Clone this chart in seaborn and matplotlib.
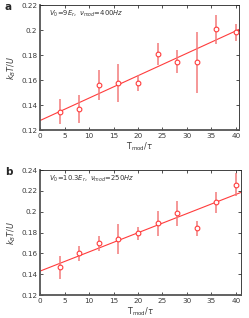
import numpy as np
import pandas as pd
import matplotlib
matplotlib.use("Agg")
import matplotlib.pyplot as plt
from matplotlib.ticker import FuncFormatter
import seaborn as sns

# --- data ---
t_mod = [4, 8, 12, 16, 20, 24, 28, 32, 36, 40]

# panel a : V0=9Er, 400Hz
kT_a = [0.1347, 0.1365, 0.1560, 0.1576, 0.1579, 0.1808, 0.1747, 0.1741, 0.2005, 0.1981]
err_a = [0.0100, 0.0112, 0.0120, 0.0150, 0.0063, 0.0087, 0.0093, 0.0243, 0.0113, 0.0065]

# panel b : V0=10.3Er, 250Hz
kT_b = [0.1466, 0.1600, 0.1696, 0.1738, 0.1792, 0.1888, 0.1984, 0.1840, 0.2090, 0.2262]
err_b = [0.0110, 0.0068, 0.0070, 0.0141, 0.0066, 0.0120, 0.0124, 0.0070, 0.0104, 0.0109]

panels = [
    ("a", kT_a, err_a, (0.12, 0.22), 40.7, r"$V_0\!=\!9E_r,\ \nu_{mod}\!=\!400Hz$"),
    ("b", kT_b, err_b, (0.12, 0.24), 41.0, r"$V_0\!=\!10.3E_r,\ \nu_{mod}\!=\!250Hz$"),
]

LINE_COL = "#ff3c3c"
ERR_COL = "#f27a7a"

sns.set_style("ticks")
plt.rcParams["font.family"] = ["DejaVu Sans"]
plt.rcParams["mathtext.fontset"] = "dejavusans"

fig = plt.figure(figsize=(2.49, 3.18), dpi=100)
rects = [[0.161, 0.591, 0.800, 0.393],
         [0.161, 0.072, 0.806, 0.393]]

fmt = FuncFormatter(lambda v, p: f"{v:g}")

for rect, (tag, kT, err, ylim, xmax, note) in zip(rects, panels):
    ax = fig.add_axes(rect)
    df = pd.DataFrame({"t": t_mod, "kT": kT, "err": err})
    ax.set_xlim(0, xmax)
    ax.set_ylim(*ylim)

    # linear fit across the full x range
    sns.regplot(data=df, x="t", y="kT", ax=ax, scatter=False, ci=None,
                truncate=False, line_kws=dict(color=LINE_COL, lw=0.8))

    ax.errorbar(df["t"], df["kT"], yerr=df["err"], fmt="none",
                ecolor=ERR_COL, elinewidth=1.1, capsize=0, zorder=3)
    ax.plot(df["t"], df["kT"], "o", ms=3.4, mfc="white", mec=LINE_COL,
            mew=0.8, zorder=4)

    ax.set_xlim(0, xmax)
    ax.set_ylim(*ylim)
    ax.set_xticks(np.arange(0, 41, 5))
    ax.set_yticks(np.arange(ylim[0], ylim[1] + 1e-6, 0.02))
    ax.yaxis.set_major_formatter(fmt)
    ax.tick_params(direction="in", length=2.5, width=0.6, labelsize=5.2,
                   top=True, right=True, pad=2, colors="#333333",
                   labelcolor="#3a3a3a")

    for side in ["top", "right"]:
        ax.spines[side].set_linewidth(0.6)
        ax.spines[side].set_color("#222222")
    for side in ["left", "bottom"]:
        ax.spines[side].set_linewidth(1.3)
        ax.spines[side].set_color("#555555")

    ax.set_xlabel(r"$\mathrm{T_{mod}}/\tau$", fontsize=5.8, labelpad=1,
                  color="#3a3a3a")
    ax.set_ylabel(r"$k_BT/U$", fontsize=5.8, labelpad=2, color="#3a3a3a")
    ax.text(0.045, 0.93, note, transform=ax.transAxes, fontsize=4.9,
            va="center", ha="left", color="#333333")

    fig.text(0.02, rect[1] + rect[3] - 0.005, tag, fontsize=7.5,
             fontweight="bold", va="center", ha="left")

fig.savefig("out.png", dpi=100)
